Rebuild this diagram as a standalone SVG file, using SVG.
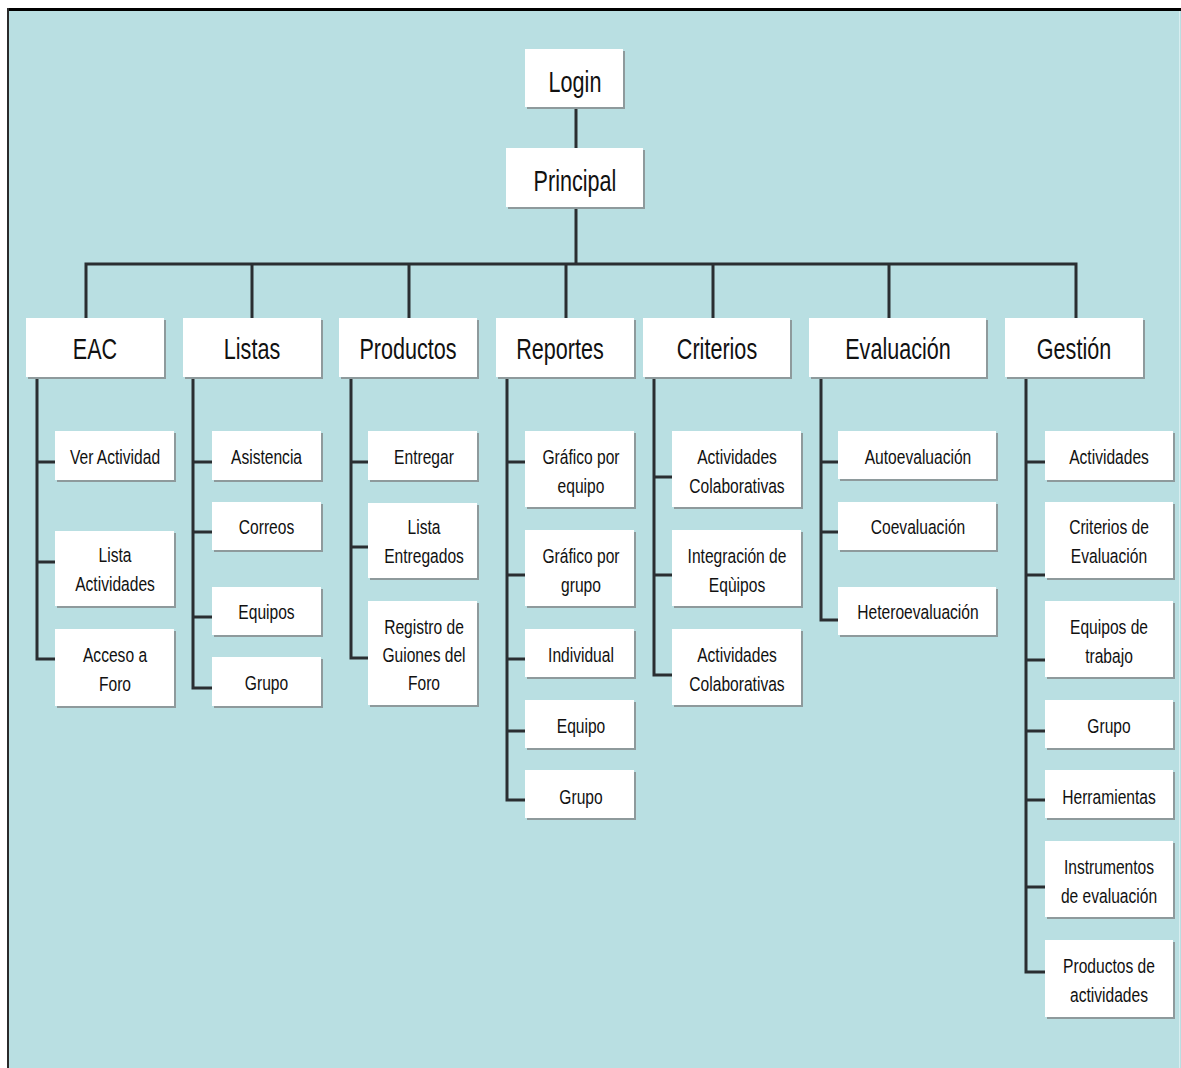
<svg xmlns="http://www.w3.org/2000/svg" width="1181" height="1068" viewBox="0 0 1181 1068">
  <style>
    .bg { fill: #b9dfe2; }
    .box { fill: #ffffff; }
    .shd { fill: #8e9a9c; }
    .conn { fill: none; stroke: #2a2e31; stroke-width: 3; stroke-linecap: butt; }
    text { font-family: "Liberation Sans", Arial, sans-serif; fill: #111; text-anchor: middle;
           transform-box: fill-box; transform-origin: center; }
    .big { font-size: 30px; transform: scaleX(0.72); }
    .sm { font-size: 19.5px; transform: scaleX(0.8); }
  </style>
  <defs>
    <filter id="soft" x="-10%" y="-10%" width="130%" height="130%">
      <feGaussianBlur stdDeviation="0.6"/>
    </filter>
  </defs>

  <!-- canvas and frame -->
  <rect x="0" y="0" width="1181" height="1068" fill="#ffffff"/>
  <rect class="bg" x="8" y="10" width="1173" height="1058"/>
  <rect x="7" y="8" width="1174" height="3" fill="#000"/>
  <rect x="7" y="8" width="2" height="1060" fill="#2a2a2a"/>
  <rect x="1179" y="11" width="1" height="1057" fill="#d8eef0"/>

  <!-- connectors -->
  <g id="connectors" class="conn">
    <path d="M576 107V148"/>
    <path d="M576 207V264"/>
    <path d="M86 318V264H1076V318"/>
    <path d="M252 264V318M409 264V318M566 264V318M713 264V318M889 264V318"/>
    <!-- EAC -->
    <path d="M37 377V659H55M37 462H55M37 562H55"/>
    <!-- Listas -->
    <path d="M193 377V688H212M193 462H212M193 532H212M193 617H212"/>
    <!-- Productos -->
    <path d="M351 377V658H368M351 462H368M351 547H368"/>
    <!-- Reportes -->
    <path d="M507 377V800H525M507 462H525M507 575H525M507 659H525M507 731H525"/>
    <!-- Criterios -->
    <path d="M654 377V675H672M654 477H672M654 575H672"/>
    <!-- Evaluación -->
    <path d="M821 377V620H838M821 462H838M821 532H838"/>
    <!-- Gestión -->
    <path d="M1026 377V972H1045M1026 462H1045M1026 575H1045M1026 660H1045M1026 731H1045M1026 800H1045M1026 887H1045"/>
  </g>

  <!-- top levels -->
  <g id="login">
    <rect class="shd" x="527" y="51" width="98" height="58" filter="url(#soft)"/>
    <rect class="box" x="525" y="49" width="98" height="58"/>
    <text class="big" x="575" y="92">Login</text>
  </g>
  <g id="principal">
    <rect class="shd" x="508" y="150" width="137" height="59" filter="url(#soft)"/>
    <rect class="box" x="506" y="148" width="137" height="59"/>
    <text class="big" x="575" y="191">Principal</text>
  </g>

  <!-- categories -->
  <g id="eac">
    <rect class="shd" x="28" y="320" width="138" height="59" filter="url(#soft)"/>
    <rect class="box" x="26" y="318" width="138" height="59"/>
    <text class="big" x="95" y="359">EAC</text>
  </g>
  <g id="listas">
    <rect class="shd" x="185" y="320" width="138" height="59" filter="url(#soft)"/>
    <rect class="box" x="183" y="318" width="138" height="59"/>
    <text class="big" x="252" y="359">Listas</text>
  </g>
  <g id="productos">
    <rect class="shd" x="341" y="320" width="138" height="59" filter="url(#soft)"/>
    <rect class="box" x="339" y="318" width="138" height="59"/>
    <text class="big" x="408" y="359">Productos</text>
  </g>
  <g id="reportes">
    <rect class="shd" x="498" y="320" width="138" height="59" filter="url(#soft)"/>
    <rect class="box" x="496" y="318" width="138" height="59"/>
    <text class="big" x="560" y="359">Reportes</text>
  </g>
  <g id="criterios">
    <rect class="shd" x="645" y="320" width="147" height="59" filter="url(#soft)"/>
    <rect class="box" x="643" y="318" width="147" height="59"/>
    <text class="big" x="717" y="359">Criterios</text>
  </g>
  <g id="evaluacion">
    <rect class="shd" x="811" y="320" width="177" height="59" filter="url(#soft)"/>
    <rect class="box" x="809" y="318" width="177" height="59"/>
    <text class="big" x="898" y="359">Evaluación</text>
  </g>
  <g id="gestion">
    <rect class="shd" x="1007" y="320" width="138" height="59" filter="url(#soft)"/>
    <rect class="box" x="1005" y="318" width="138" height="59"/>
    <text class="big" x="1074" y="359">Gestión</text>
  </g>

  <!-- EAC children -->
  <g id="ver-actividad">
    <rect class="shd" x="57" y="433" width="119" height="49" filter="url(#soft)"/>
    <rect class="box" x="55" y="431" width="119" height="49"/>
    <text class="sm" x="115" y="464">Ver Actividad</text>
  </g>
  <g id="lista-actividades">
    <rect class="shd" x="57" y="533" width="119" height="75" filter="url(#soft)"/>
    <rect class="box" x="55" y="531" width="119" height="75"/>
    <text class="sm" x="115" y="562">Lista</text>
    <text class="sm" x="115" y="591">Actividades</text>
  </g>
  <g id="acceso-foro">
    <rect class="shd" x="57" y="631" width="119" height="77" filter="url(#soft)"/>
    <rect class="box" x="55" y="629" width="119" height="77"/>
    <text class="sm" x="115" y="662">Acceso a</text>
    <text class="sm" x="115" y="691">Foro</text>
  </g>

  <!-- Listas children -->
  <g id="asistencia">
    <rect class="shd" x="214" y="433" width="109" height="49" filter="url(#soft)"/>
    <rect class="box" x="212" y="431" width="109" height="49"/>
    <text class="sm" x="266.5" y="464">Asistencia</text>
  </g>
  <g id="correos">
    <rect class="shd" x="214" y="504" width="109" height="48" filter="url(#soft)"/>
    <rect class="box" x="212" y="502" width="109" height="48"/>
    <text class="sm" x="266.5" y="534">Correos</text>
  </g>
  <g id="equipos">
    <rect class="shd" x="214" y="589" width="109" height="48" filter="url(#soft)"/>
    <rect class="box" x="212" y="587" width="109" height="48"/>
    <text class="sm" x="266.5" y="619">Equipos</text>
  </g>
  <g id="grupo-listas">
    <rect class="shd" x="214" y="659" width="109" height="49" filter="url(#soft)"/>
    <rect class="box" x="212" y="657" width="109" height="49"/>
    <text class="sm" x="266.5" y="690">Grupo</text>
  </g>

  <!-- Productos children -->
  <g id="entregar">
    <rect class="shd" x="370" y="433" width="109" height="49" filter="url(#soft)"/>
    <rect class="box" x="368" y="431" width="109" height="49"/>
    <text class="sm" x="424" y="464">Entregar</text>
  </g>
  <g id="lista-entregados">
    <rect class="shd" x="370" y="505" width="109" height="75" filter="url(#soft)"/>
    <rect class="box" x="368" y="503" width="109" height="75"/>
    <text class="sm" x="424" y="534">Lista</text>
    <text class="sm" x="424" y="563">Entregados</text>
  </g>
  <g id="registro-guiones">
    <rect class="shd" x="370" y="603" width="109" height="104" filter="url(#soft)"/>
    <rect class="box" x="368" y="601" width="109" height="104"/>
    <text class="sm" x="424" y="634">Registro de</text>
    <text class="sm" x="424" y="662">Guiones del</text>
    <text class="sm" x="424" y="690">Foro</text>
  </g>

  <!-- Reportes children -->
  <g id="grafico-equipo">
    <rect class="shd" x="527" y="433" width="109" height="76" filter="url(#soft)"/>
    <rect class="box" x="525" y="431" width="109" height="76"/>
    <text class="sm" x="581" y="464">Gráfico por</text>
    <text class="sm" x="581" y="493">equipo</text>
  </g>
  <g id="grafico-grupo">
    <rect class="shd" x="527" y="532" width="109" height="76" filter="url(#soft)"/>
    <rect class="box" x="525" y="530" width="109" height="76"/>
    <text class="sm" x="581" y="563">Gráfico por</text>
    <text class="sm" x="581" y="592">grupo</text>
  </g>
  <g id="individual">
    <rect class="shd" x="527" y="631" width="109" height="48" filter="url(#soft)"/>
    <rect class="box" x="525" y="629" width="109" height="48"/>
    <text class="sm" x="581" y="662">Individual</text>
  </g>
  <g id="equipo">
    <rect class="shd" x="527" y="702" width="109" height="48" filter="url(#soft)"/>
    <rect class="box" x="525" y="700" width="109" height="48"/>
    <text class="sm" x="581" y="733">Equipo</text>
  </g>
  <g id="grupo-reportes">
    <rect class="shd" x="527" y="772" width="109" height="48" filter="url(#soft)"/>
    <rect class="box" x="525" y="770" width="109" height="48"/>
    <text class="sm" x="581" y="804">Grupo</text>
  </g>

  <!-- Criterios children -->
  <g id="act-colab-1">
    <rect class="shd" x="674" y="433" width="129" height="76" filter="url(#soft)"/>
    <rect class="box" x="672" y="431" width="129" height="76"/>
    <text class="sm" x="737" y="464">Actividades</text>
    <text class="sm" x="737" y="493">Colaborativas</text>
  </g>
  <g id="integracion-equipos">
    <rect class="shd" x="674" y="532" width="129" height="76" filter="url(#soft)"/>
    <rect class="box" x="672" y="530" width="129" height="76"/>
    <text class="sm" x="737" y="563">Integración de</text>
    <text class="sm" x="737" y="592">Eqùipos</text>
  </g>
  <g id="act-colab-2">
    <rect class="shd" x="674" y="631" width="129" height="76" filter="url(#soft)"/>
    <rect class="box" x="672" y="629" width="129" height="76"/>
    <text class="sm" x="737" y="662">Actividades</text>
    <text class="sm" x="737" y="691">Colaborativas</text>
  </g>

  <!-- Evaluación children -->
  <g id="autoevaluacion">
    <rect class="shd" x="840" y="433" width="158" height="48" filter="url(#soft)"/>
    <rect class="box" x="838" y="431" width="158" height="48"/>
    <text class="sm" x="918" y="464">Autoevaluación</text>
  </g>
  <g id="coevaluacion">
    <rect class="shd" x="840" y="504" width="158" height="48" filter="url(#soft)"/>
    <rect class="box" x="838" y="502" width="158" height="48"/>
    <text class="sm" x="918" y="534">Coevaluación</text>
  </g>
  <g id="heteroevaluacion">
    <rect class="shd" x="840" y="589" width="158" height="48" filter="url(#soft)"/>
    <rect class="box" x="838" y="587" width="158" height="48"/>
    <text class="sm" x="918" y="619">Heteroevaluación</text>
  </g>

  <!-- Gestión children -->
  <g id="g-actividades">
    <rect class="shd" x="1047" y="433" width="128" height="49" filter="url(#soft)"/>
    <rect class="box" x="1045" y="431" width="128" height="49"/>
    <text class="sm" x="1109" y="464">Actividades</text>
  </g>
  <g id="g-criterios">
    <rect class="shd" x="1047" y="504" width="128" height="76" filter="url(#soft)"/>
    <rect class="box" x="1045" y="502" width="128" height="76"/>
    <text class="sm" x="1109" y="534">Criterios de</text>
    <text class="sm" x="1109" y="563">Evaluación</text>
  </g>
  <g id="g-equipos">
    <rect class="shd" x="1047" y="603" width="128" height="76" filter="url(#soft)"/>
    <rect class="box" x="1045" y="601" width="128" height="76"/>
    <text class="sm" x="1109" y="634">Equipos de</text>
    <text class="sm" x="1109" y="663">trabajo</text>
  </g>
  <g id="g-grupo">
    <rect class="shd" x="1047" y="702" width="128" height="48" filter="url(#soft)"/>
    <rect class="box" x="1045" y="700" width="128" height="48"/>
    <text class="sm" x="1109" y="733">Grupo</text>
  </g>
  <g id="g-herramientas">
    <rect class="shd" x="1047" y="772" width="128" height="48" filter="url(#soft)"/>
    <rect class="box" x="1045" y="770" width="128" height="48"/>
    <text class="sm" x="1109" y="804">Herramientas</text>
  </g>
  <g id="g-instrumentos">
    <rect class="shd" x="1047" y="843" width="128" height="76" filter="url(#soft)"/>
    <rect class="box" x="1045" y="841" width="128" height="76"/>
    <text class="sm" x="1109" y="874">Instrumentos</text>
    <text class="sm" x="1109" y="903">de evaluación</text>
  </g>
  <g id="g-productos">
    <rect class="shd" x="1047" y="942" width="128" height="77" filter="url(#soft)"/>
    <rect class="box" x="1045" y="940" width="128" height="77"/>
    <text class="sm" x="1109" y="973">Productos de</text>
    <text class="sm" x="1109" y="1002">actividades</text>
  </g>
</svg>
